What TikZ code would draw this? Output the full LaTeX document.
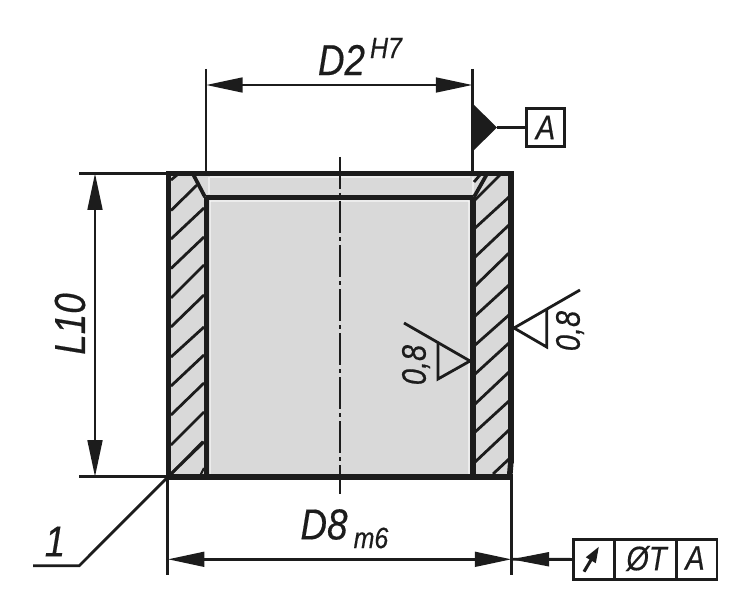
\documentclass[tikz,border=0pt]{standalone}
\usepackage{fontspec}
\setmainfont{Liberation Sans}[FakeStretch=0.85,FakeBold=0.4]
\usetikzlibrary{arrows.meta}
\definecolor{partgrey}{gray}{0.85}
\definecolor{ink}{gray}{0.11}
\tikzset{
  x=0.75pt,y=-0.75pt,
  thick line/.style={draw=ink,line width=4.2pt,line join=miter,line cap=rect},
  dim line/.style={draw=ink,line width=2.1pt},
  hatch/.style={draw=ink,line width=2.1pt},
  sheen/.style={draw=white,line width=1.1pt,opacity=.5},
  mid line/.style={draw=ink,line width=1.6pt,dash pattern=on 24pt off 3pt on 3pt off 3pt},
  dim arrows/.style={dim line,{Triangle[length=27.5pt,width=11pt]}-{Triangle[length=27.5pt,width=11pt]}},
  big label/.style={inner sep=0pt,font=\fontsize{32.5}{32.5}\selectfont\itshape,text=ink},
  mid label/.style={inner sep=0pt,font=\fontsize{25.5}{25.5}\selectfont\itshape,text=ink},
  small label/.style={inner sep=0pt,font=\fontsize{22}{22}\selectfont\itshape,text=ink},
  frame cell/.style={draw=ink,line width=2.1pt,fill=white,minimum height=30pt,inner sep=0pt,anchor=north west},
}
\begin{document}
\begin{tikzpicture}
\useasboundingbox (0,0) rectangle (750,613);
% grey fills
\fill[partgrey] (168,173) rectangle (511,477);
\draw[sheen] (209,177) -- (209,194);
\draw[sheen] (473,177) -- (473,194);
\draw[sheen] (210,177) -- (470,177);
\draw[sheen] (210.5,201) -- (210.5,474);
\draw[sheen] (210,201) -- (469,201);
\draw[sheen] (469,201) -- (469,474);
% hatching, left wall
\draw[hatch] (171,180) -- (177,175);
\draw[hatch] (171,210.5) -- (197,185);
\foreach \a/\b in {239/208,268.5/237,298/265,327/295,357/327,386/355,415/383,445/412,474/442}
  {\draw[hatch] (171,\a) -- (204,\b);}
% hatching, right wall
\draw[hatch] (474,182) -- (480,175);
\draw[hatch] (474,201) -- (500,175);
\foreach \a/\b in {229/197,258/225,287/253,317/285,346/315,375/343,405/372,433/401,463/430}
  {\draw[hatch] (474,\a) -- (509,\b);}
\draw[hatch] (493,474) -- (509,459);
% outline
\coordinate (tl) at (168.5,173.5); \coordinate (tr) at (511,173.5);
\coordinate (bl) at (168.5,477); \coordinate (br) at (510,477);
\coordinate (il) at (206.3,197.5); \coordinate (ir) at (473,197.5);
\coordinate (ibl) at (206.3,477); \coordinate (ibr) at (473,477);
\coordinate (brc) at (511,460);
\fill[white] (511,460) -- (514,460) -- (514,480) -- (508,480) -- cycle;
\draw[thick line] (br) -- (bl) -- (tl) -- (tr) -- (brc);
\draw[thick line,line cap=butt] (brc) -- (509.5,478);
\draw[thick line,line cap=butt] (il) -- (ir);
\draw[thick line,line cap=butt] (il) -- (ibl);
\draw[thick line,line cap=butt] (ir) -- (ibr);
\draw[draw=ink,line width=2.8pt] (193,174) -- (205,197);
\draw[draw=ink,line width=2.8pt] (487,174) -- (474,197);
\draw[draw=ink,line width=1.6pt] (200,476) -- (204,468);
\draw[mid line] (340,157) -- (340,494);
% top dimension
\coordinate (d2a) at (206,85); \coordinate (d2b) at (472.5,85);
\draw[dim line] (206,69) -- (206,175);
\draw[dim line] (472.5,69) -- (472.5,173);
\draw[dim arrows] (d2a) -- (d2b);
\node[big label] (d2) at (341.5,60) {D2};
\node[small label] (h7) at (386,48) {H7};
% datum
\node[draw=ink,line width=2.1pt,minimum width=28pt,minimum height=28pt,inner sep=0pt,font=\fontsize{25.5}{25.5}\selectfont\itshape,text=ink] (datum) at (545.5,127.5) {A};
\fill[ink] (472,103) -- (497,127.5) -- (472,152) -- cycle;
\coordinate (dt) at (497,127.5);
\draw[dim line] (dt) -- (datum);
% left dimension
\draw[dim line] (79,173.3) -- (168,173.3);
\draw[dim line] (79,476.8) -- (168,476.8);
\draw[dim arrows] (95,173.3) -- (95,476.8);
\node[big label,rotate=90] (l10) at (70,324) {L10};
% bottom dimension
\draw[dim line] (167.8,477) -- (167.8,575);
\draw[dim line] (511.5,477) -- (511.5,575);
\draw[dim arrows] (167.8,559.3) -- (511.5,559.3);
\node[big label] (d8) at (324,524.5) {D8};
\node[small label] (m6) at (371,538) {m6};
% leader 1
\coordinate (l0) at (33,565.7); \coordinate (l1) at (79.3,565.7); \coordinate (l2) at (203,441.7);
\draw[dim line] (l0) -- (l1) -- (l2);
\node[big label] (one) at (55,541.5) {1};
% roughness right
\coordinate (ra) at (514,328);
\draw[dim line] (ra) -- (580,290);
\draw[dim line,line join=miter] (ra) -- (546.7,347) -- (546.7,310);
\node[mid label,rotate=90] (r8) at (570,331) {0,8};
% roughness inner
\coordinate (ia) at (470,361);
\draw[dim line] (ia) -- (404,323);
\draw[dim line,line join=miter] (ia) -- (438,379) -- (438,343);
\node[mid label,rotate=90] (i8) at (416,365) {0,8};
% tolerance frame
\node[frame cell,minimum width=30.5pt] (c1) at (572.3,538) {};
\node[frame cell,minimum width=46.5pt] (c2) at (613,538) {};
\node[frame cell,minimum width=30.5pt] (c3) at (675,538) {};
\draw[dim line] (511.5,559.3) -- (c1.west);
\fill[ink] (511.5,559.3) -- (549,552) -- (549,566.5) -- cycle;
\coordinate (ma) at (584,571.7); \coordinate (mb) at (599,546.5);
\draw[ink,line width=2.3pt,-{Triangle[length=12pt,width=8pt]}] (ma) -- (mb);
\node[mid label] (tv) at (646.5,558.5) {ØT};
\node[mid label] (da) at (695,558) {A};
\end{tikzpicture}
\end{document}
